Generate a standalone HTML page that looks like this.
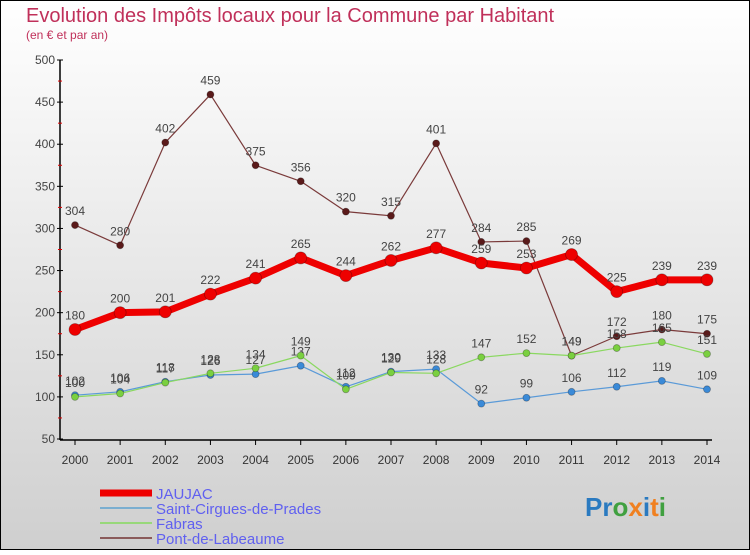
<!DOCTYPE html>
<html><head><meta charset="utf-8"><style>
body{margin:0}
#c{width:750px;height:550px;position:relative;font-family:"Liberation Sans",sans-serif;}
</style></head><body>
<div id="c">
<svg id="s" width="750" height="550" xmlns="http://www.w3.org/2000/svg">
<defs><linearGradient id="bg" x1="0" y1="0" x2="0" y2="1"><stop offset="0" stop-color="#ffffff"/><stop offset="1" stop-color="#cfcfcf"/></linearGradient></defs>
<rect x="0.5" y="0.5" width="749" height="549" fill="url(#bg)" stroke="#000"/>
<text x="26" y="22" font-size="20" fill="#c0305a">Evolution des Impôts locaux pour la Commune par Habitant</text>
<text x="26" y="39" font-size="12" fill="#c0305a">(en € et par an)</text>
<g id="axes"></g><g id="series"></g>
<g font-size="15" fill="#6060f0">
<line x1="100" y1="493" x2="152" y2="493" stroke="#ee0000" stroke-width="7"/>
<text x="156" y="499">JAUJAC</text>
<line x1="100" y1="508" x2="152" y2="508" stroke="#7aaed0" stroke-width="2"/>
<text x="156" y="514">Saint-Cirgues-de-Prades</text>
<line x1="100" y1="523" x2="152" y2="523" stroke="#98d87a" stroke-width="2"/>
<text x="156" y="529">Fabras</text>
<line x1="100" y1="538" x2="152" y2="538" stroke="#8a5a5a" stroke-width="2"/>
<text x="156" y="544">Pont-de-Labeaume</text>
</g>
<text x="585" y="516" font-size="26" font-weight="bold"><tspan fill="#2a7ac0">Pr</tspan><tspan fill="#40a040">o</tspan><tspan fill="#f08020">x</tspan><tspan fill="#2a7ac0">i</tspan><tspan fill="#f08020">t</tspan><tspan fill="#40a040">i</tspan></text>
</svg>
</div>
<script>
const years=[2000,2001,2002,2003,2004,2005,2006,2007,2008,2009,2010,2011,2012,2013,2014];
const yTicks=[50,100,150,200,250,300,350,400,450,500];
const jaujac=[180,200,201,222,241,265,244,262,277,259,253,269,225,239,239];
const saintCirgues=[102,106,118,126,127,137,112,130,133,92,99,106,112,119,109];
const fabras=[100,104,117,128,134,149,109,129,128,147,152,149,158,165,151];
const pont=[304,280,402,459,375,356,320,315,401,284,285,149,172,180,175];
const NS="http://www.w3.org/2000/svg";
function X(i){return 75+i*(707-75)/(years.length-1);}
function Y(v){return 439-(v-50)*(439-60)/450;}
function mk(tag,attrs,parent){const e=document.createElementNS(NS,tag);for(const k in attrs)e.setAttribute(k,attrs[k]);parent.appendChild(e);return e;}
const ax=document.getElementById('axes');
mk('line',{x1:60,y1:60,x2:60,y2:440,stroke:'#000','stroke-width':1.5},ax);

mk('line',{x1:60,y1:440,x2:712,y2:440,stroke:'#000','stroke-width':1.5},ax);

yTicks.forEach((t,i)=>{
  const y=Y(t);
  mk('line',{x1:57,y1:y,x2:63,y2:y,stroke:'#000'},ax);
  const tx=mk('text',{x:55,y:y+4,'font-size':12,fill:'#444','text-anchor':'end'},ax);
  tx.textContent=t;
  
  
  if(i<yTicks.length-1){const m=Y(t+25);mk('line',{x1:58,y1:m,x2:62,y2:m,stroke:'#e00000'},ax);}
});
years.forEach((yr,i)=>{
  const x=X(i);
  mk('line',{x1:x,y1:440,x2:x,y2:445,stroke:'#000'},ax);
  const tx=mk('text',{x:x,y:464,'font-size':12,fill:'#333','text-anchor':'middle'},ax);
  tx.textContent=yr;
  
  
});
const sg=document.getElementById('series');
function draw(vals,name,color,dot,w,r){
  const g=mk('g',{},sg);
  
  
  const p=mk('polyline',{points:vals.map((v,i)=>X(i)+','+Y(v)).join(' '),fill:'none',stroke:color,'stroke-width':w,'stroke-linejoin':'round'},g);
  
  
  vals.forEach((v,i)=>{
    const c=mk('circle',{cx:X(i),cy:Y(v),r:r,fill:dot,stroke:'rgba(0,0,0,0.3)','stroke-width':0.8},g);
    
    
    const t=mk('text',{x:X(i),y:Y(v)-10,'font-size':12,fill:'#444','text-anchor':'middle'},g);
    t.textContent=v;
    
    
  });
}
draw(pont,'pont-de-labeaume','#7a3a3a','#5a1a1a',1.2,3.5);
draw(saintCirgues,'saint-cirgues','#5a9ad8','#3a8ad8',1.2,3.5);
draw(fabras,'fabras','#8ad860','#7ad040',1.2,3.5);
draw(jaujac,'jaujac','#ee0000','#ee0000',7,6);
</script>
</body></html>
